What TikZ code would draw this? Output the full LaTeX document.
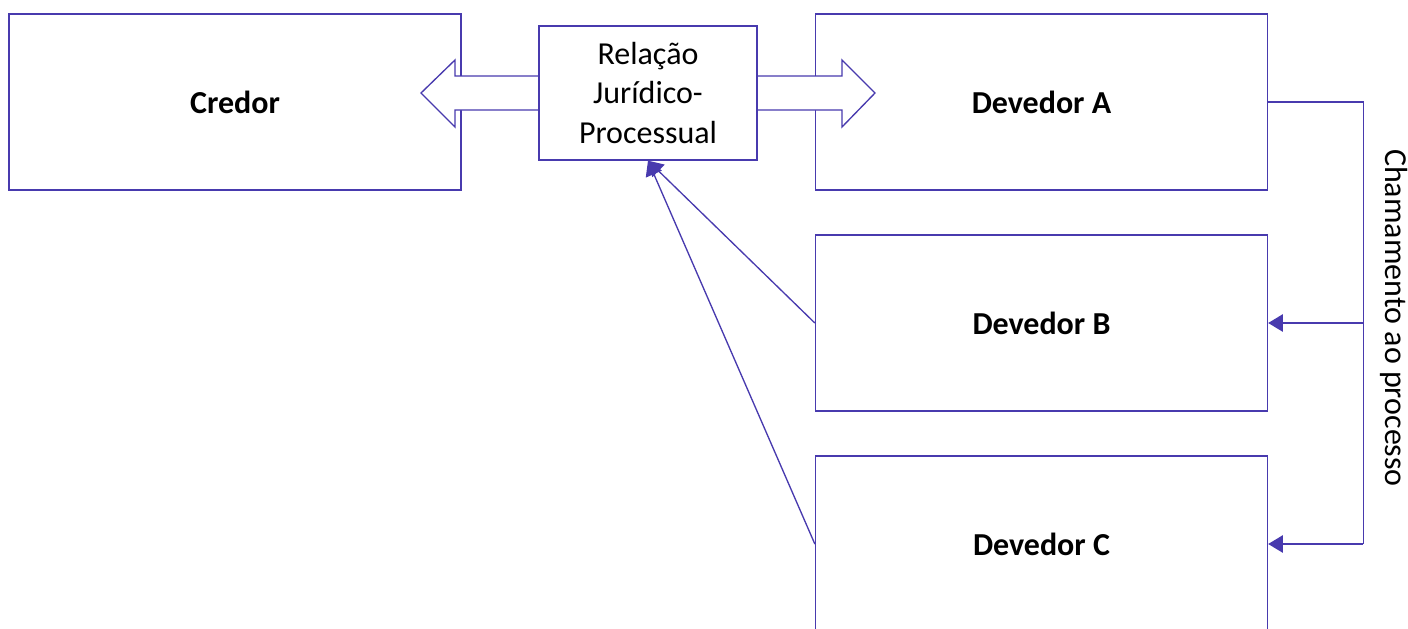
\documentclass[tikz,border=0pt]{standalone}
\usepackage{fontspec}
\setmainfont{Carlito}
\usepackage{xcolor}
\usepackage{tikz}
\usetikzlibrary{arrows.meta}
\usetikzlibrary{shapes, positioning}
\definecolor{linha}{RGB}{72,58,174}

\begin{document}
\begin{tikzpicture}[x=0.75pt, y=-0.75pt,
    caixa/.style={draw=linha, line width=1pt, fill=white, inner sep=0pt,
        minimum width=339pt, minimum height=132pt,
        font=\fontsize{24}{29}\selectfont\bfseries},
    relacao/.style={draw=linha, line width=1pt, fill=white, inner sep=0pt,
        minimum width=163.5pt, minimum height=100.5pt, align=center,
        font=\fontsize{24}{29.5}\selectfont},
    seta/.style={draw=linha, line width=1pt, -{Triangle[length=11pt, width=13pt]}}]
    \clip (0,0) rectangle (1408,628);
    \node[caixa] (credor) at (235,102) {Credor};
    \node[caixa] (devA) at (1041.5,102) {Devedor A};
    \node[caixa] (devB) at (1041.5,323) {Devedor B};
    \node[caixa] (devC) at (1041.5,544) {Devedor C};
    % seta dupla por baixo da relacao
    \draw[linha, line width=1pt, fill=white] (421,93) -- (455,60) -- (455,76) -- (842,76) -- (842,60)
        -- (875,93) -- (842,127) -- (842,110) -- (455,110) -- (455,127) -- cycle;
    \node[relacao] (rel) at (648,93) {Relação\\Jurídico-\\Processual};
    \draw[seta] (devB.west) -- (rel.south);
    \draw[seta] (devC.west) -- (rel.south);
    % chamamento ao processo
    \draw[linha, line width=1pt] (devA.east) -- ++(95,0) coordinate (canto)
        -- (canto |- devC.east) coordinate (fundo);
    \draw[seta] (canto |- devB.east) -- (devB.east);
    \draw[seta] (fundo) -- (devC.east);
    \node[rotate=-90, font=\fontsize{24}{29}\selectfont] (chama) at (1394,318) {Chamamento ao processo};
\end{tikzpicture}
\end{document}
